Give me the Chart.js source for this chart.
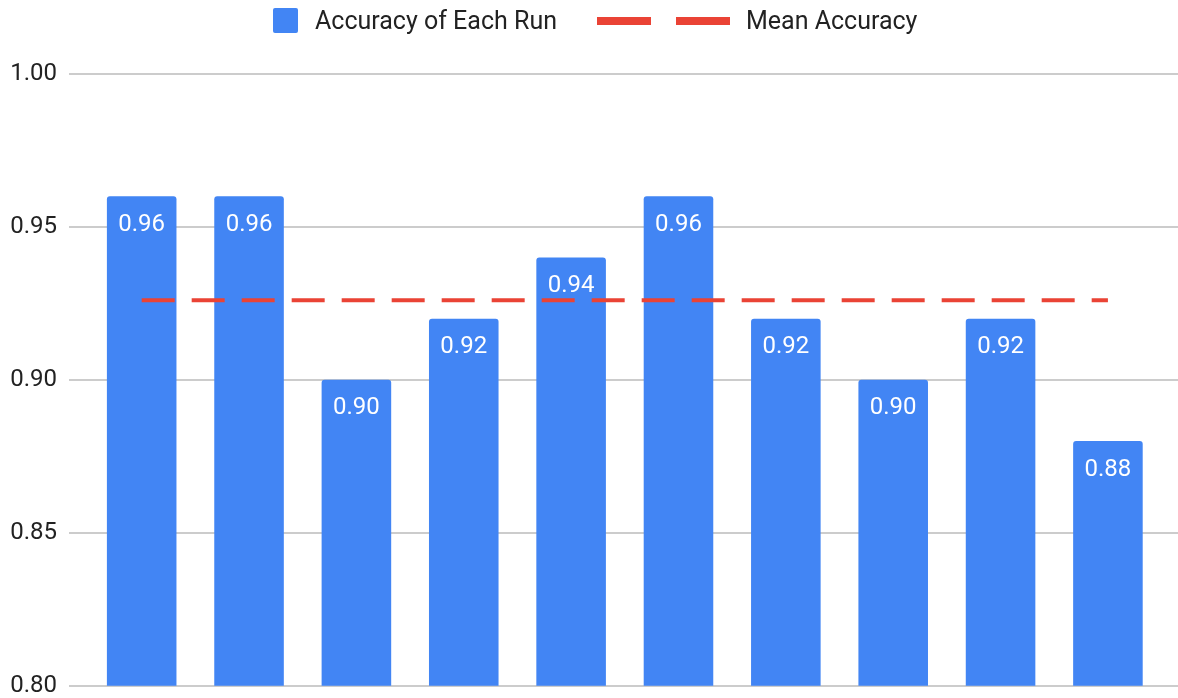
<!DOCTYPE html>
<html>
<head>
<meta charset="utf-8">
<title>Accuracy of Each Run</title>
<script src="https://cdn.jsdelivr.net/npm/chart.js@4.4.0/dist/chart.umd.min.js"></script>
<style>
  html, body { margin: 0; padding: 0; background: #ffffff; }
  #wrap { position: relative; width: 1178px; height: 698px; }
  #chart { display: block; }
  #legend {
    position: absolute; top: 0; left: 0; width: 1178px; height: 42px;
    font: 25px Roboto, "Liberation Sans", sans-serif; color: #222222;
    white-space: nowrap;
  }
  #legend > * { position: absolute; }
  .swatch { top: 8px; width: 25px; height: 25px; border-radius: 2px; }
  .dash { top: 17px; width: 54px; height: 8px; }
  .label { top: 0; height: 42px; line-height: 42px; }
</style>
</head>
<body>
<div id="wrap">
  <canvas id="chart" width="1178" height="698"></canvas>
  <div id="legend"></div>
</div>
<script>
// Ten runs, their accuracy, and the mean accuracy across them
const runs = ['Run 1', 'Run 2', 'Run 3', 'Run 4', 'Run 5', 'Run 6', 'Run 7', 'Run 8', 'Run 9', 'Run 10'];
const runAccuracy = [0.96, 0.96, 0.90, 0.92, 0.94, 0.96, 0.92, 0.90, 0.92, 0.88];
const meanAccuracy = [0.926, 0.926, 0.926, 0.926, 0.926, 0.926, 0.926, 0.926, 0.926, 0.926];
const yTicks = [0.80, 0.85, 0.90, 0.95, 1.00];

const BLUE = '#4285f4';
const RED = '#ea4335';
const FONT = 'Roboto, "Liberation Sans", sans-serif';

// Horizontal gridlines that run a little past the plot on both sides
const gridPlugin = {
  id: 'wideGrid',
  beforeDatasetsDraw(chart) {
    const { ctx } = chart;
    const y = chart.scales.y;
    ctx.save();
    ctx.strokeStyle = '#cccccc';
    ctx.lineWidth = 2;
    yTicks.forEach(v => {
      const py = Math.round(y.getPixelForValue(v));
      ctx.beginPath();
      ctx.moveTo(69, py);
      ctx.lineTo(chart.width, py);
      ctx.stroke();
    });
    ctx.restore();
  }
};

// White value labels inside the top of each bar
const barLabelPlugin = {
  id: 'barLabels',
  afterDatasetsDraw(chart) {
    const { ctx } = chart;
    const meta = chart.getDatasetMeta(0);
    const values = chart.data.datasets[0].data;
    ctx.save();
    ctx.fillStyle = '#ffffff';
    ctx.font = '24px ' + FONT;
    ctx.textAlign = 'center';
    ctx.textBaseline = 'alphabetic';
    meta.data.forEach((bar, i) => {
      ctx.fillText(values[i].toFixed(2), bar.x, bar.y + 34.5);
    });
    ctx.restore();
  }
};

const chart = new Chart(document.getElementById('chart'), {
  type: 'bar',
  data: {
    labels: runs,
    datasets: [
      {
        type: 'bar',
        label: 'Accuracy of Each Run',
        data: runAccuracy,
        backgroundColor: BLUE,
        borderRadius: { topLeft: 3, topRight: 3, bottomLeft: 0, bottomRight: 0 },
        borderSkipped: 'bottom',
        barPercentage: 1,
        categoryPercentage: 0.648,
        order: 1
      },
      {
        type: 'line',
        label: 'Mean Accuracy',
        data: meanAccuracy,
        borderColor: RED,
        backgroundColor: RED,
        borderWidth: 4,
        borderDash: [33, 17],
        borderCapStyle: 'butt',
        pointRadius: 0,
        pointHoverRadius: 0,
        fill: false,
        order: 0
      }
    ]
  },
  options: {
    responsive: false,
    animation: false,
    layout: { padding: { top: 74, bottom: 12.3, left: 0, right: 16.4 } },
    plugins: {
      legend: { display: false },
      tooltip: { enabled: false }
    },
    scales: {
      x: {
        display: false,
        offset: true,
        grid: { display: false }
      },
      y: {
        min: 0.80,
        max: 1.00,
        afterBuildTicks(scale) {
          scale.ticks = yTicks.map(v => ({ value: v }));
        },
        afterFit(scale) { scale.width = 88; },
        // tick marks are invisible; their length sets the gap before the labels
        grid: {
          display: true,
          drawOnChartArea: false,
          drawTicks: true,
          tickLength: 31,
          color: 'rgba(0,0,0,0)'
        },
        border: { display: false },
        ticks: {
          padding: 0,
          color: '#222222',
          font: { family: FONT, size: 24, lineHeight: 1 },
          callback: v => Number(v).toFixed(2)
        }
      }
    }
  },
  plugins: [gridPlugin, barLabelPlugin]
});

// Legend built from the chart's own datasets
const legend = document.getElementById('legend');
function add(cls, left, style) {
  const el = document.createElement('div');
  el.className = cls;
  el.style.left = left + 'px';
  Object.assign(el.style, style || {});
  legend.appendChild(el);
  return el;
}
const barSet = chart.data.datasets[0];
const lineSet = chart.data.datasets[1];
add('swatch', 273, { background: barSet.backgroundColor });
add('label', 315).textContent = barSet.label;
add('dash', 597, { background: lineSet.borderColor });
add('dash', 676, { background: lineSet.borderColor });
add('label', 746).textContent = lineSet.label;
</script>
</body>
</html>
